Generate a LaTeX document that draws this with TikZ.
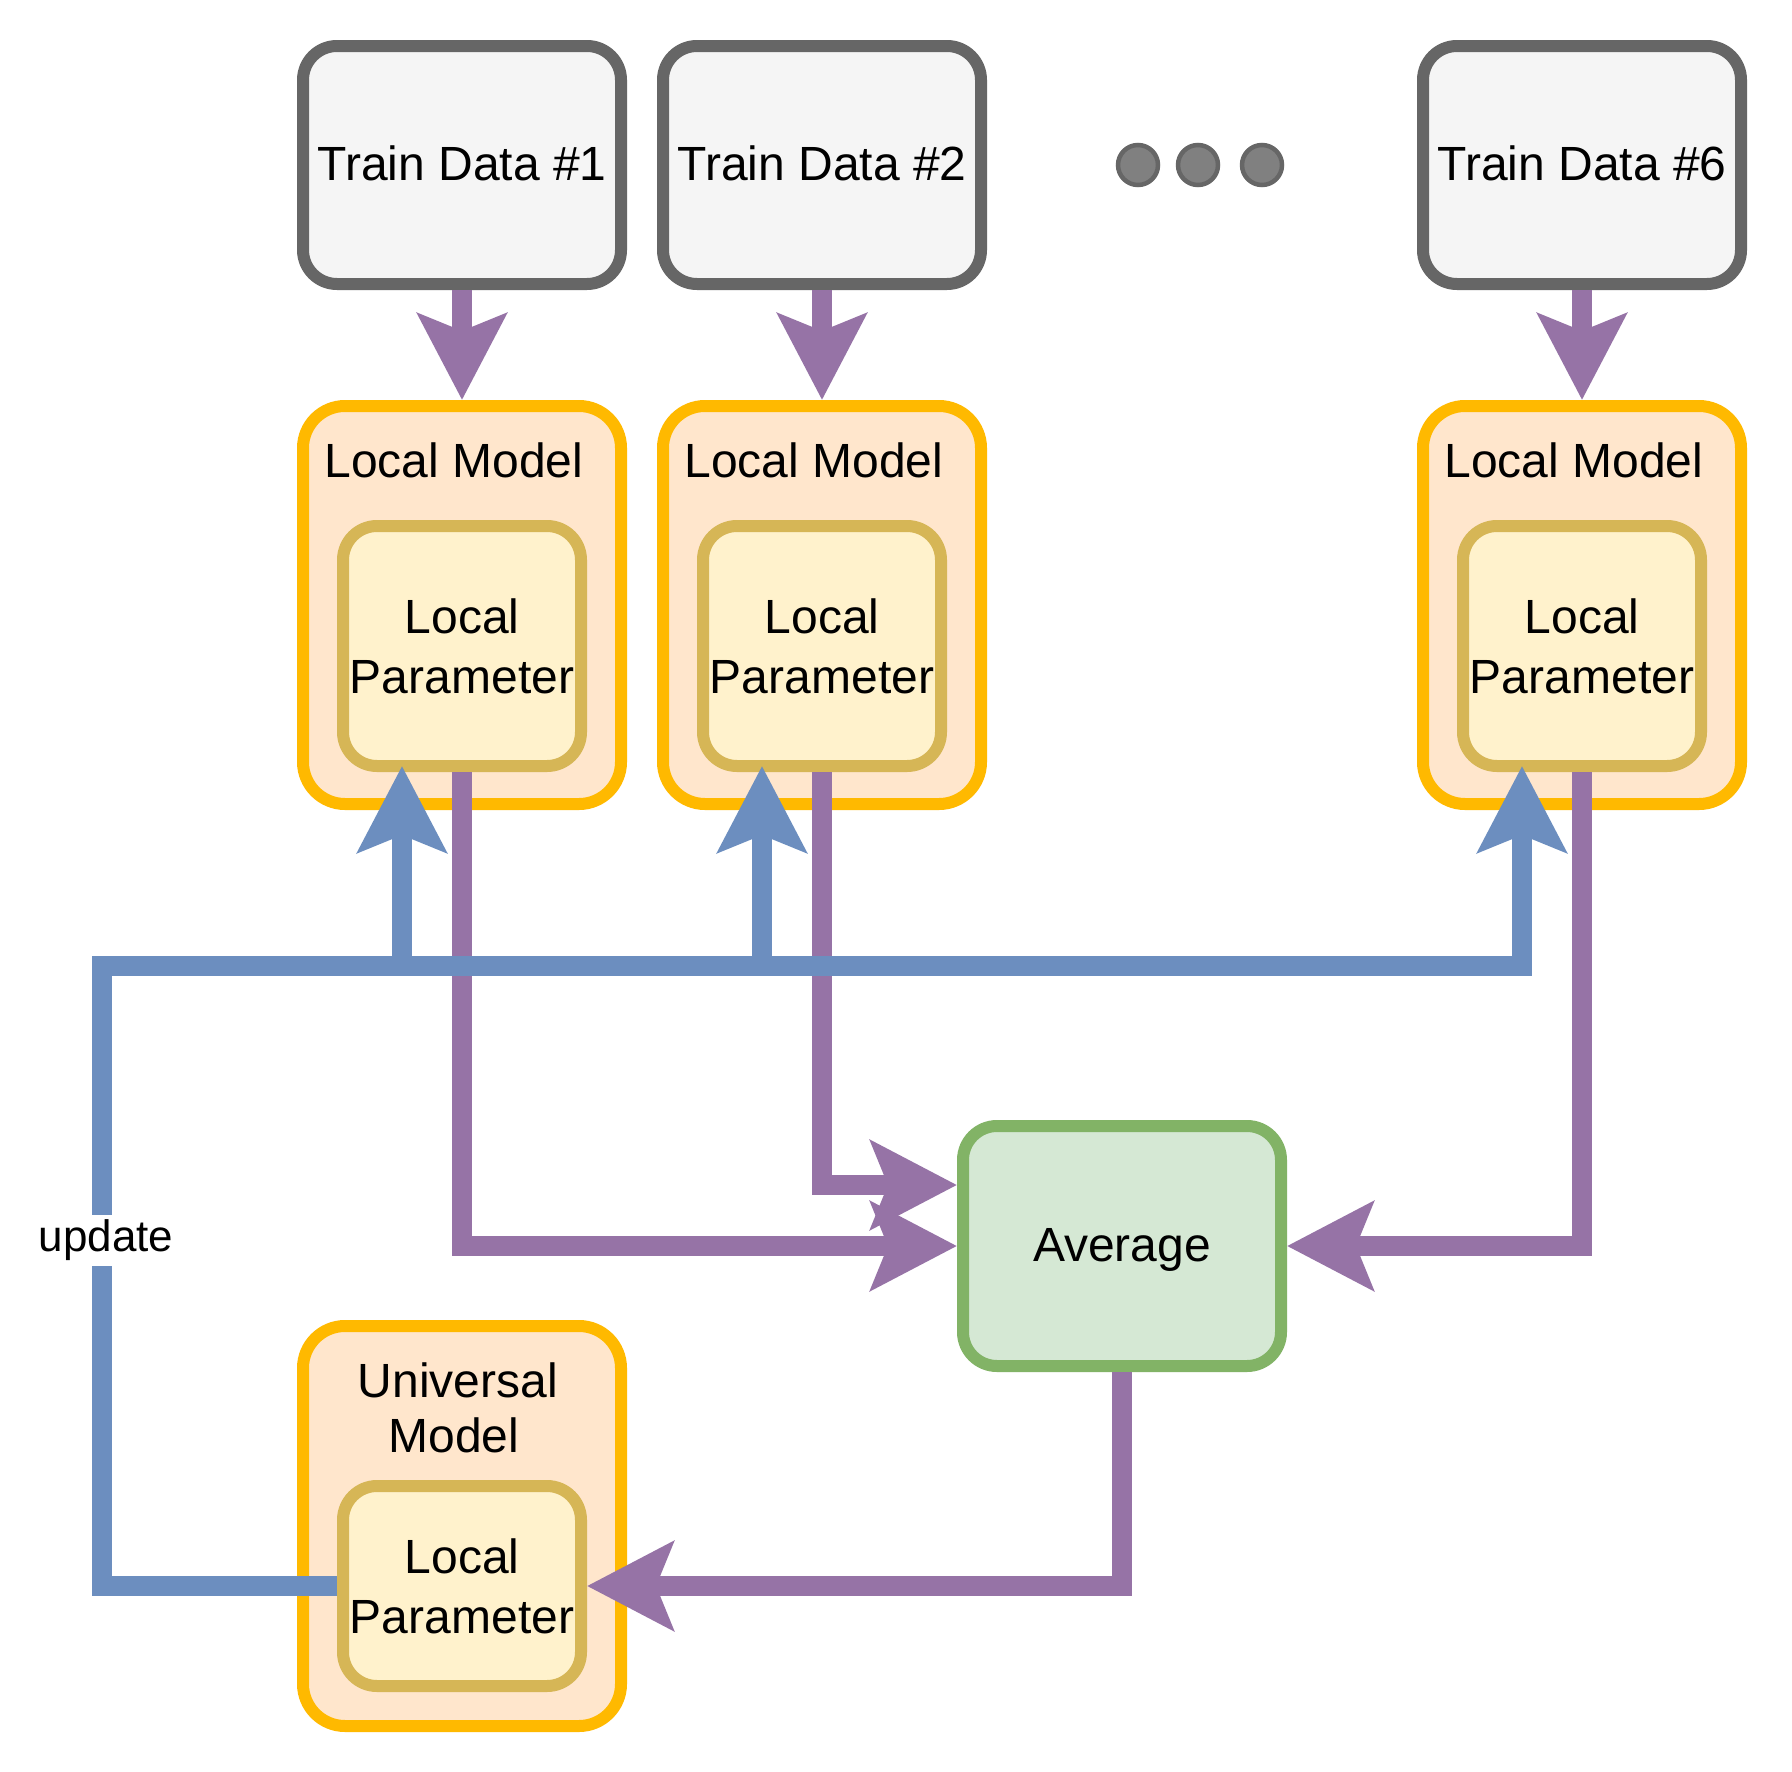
\documentclass[tikz,border=0pt]{standalone}
\usepackage{fontspec}
\setmainfont{Liberation Sans}
\usetikzlibrary{arrows.meta}
\definecolor{grayfill}{HTML}{F5F5F5}
\definecolor{graydraw}{HTML}{666666}
\definecolor{orangefill}{HTML}{FFE6CC}
\definecolor{orangedraw}{HTML}{FFB900}
\definecolor{yelfill}{HTML}{FFF2CC}
\definecolor{yeldraw}{HTML}{D6B656}
\definecolor{grnfill}{HTML}{D5E8D4}
\definecolor{grndraw}{HTML}{82B366}
\definecolor{purp}{HTML}{9673A6}
\definecolor{blu}{HTML}{6C8EBF}
\definecolor{dotfill}{HTML}{808080}
\newcommand\bigfnt{\fontsize{48}{60}\selectfont}
\newcommand\smallfnt{\fontsize{44}{52}\selectfont}
\begin{document}
\begin{tikzpicture}[x=1pt,y=-1pt,
  databox/.style={draw=graydraw,fill=grayfill,line width=12pt,rounded corners=34pt,
    minimum width=318pt,minimum height=238pt,inner sep=0pt,text height=30pt,text depth=0pt,font=\bigfnt},
  modelbox/.style={draw=orangedraw,fill=orangefill,line width=12pt,rounded corners=42pt,
    minimum width=318pt,minimum height=398pt,inner sep=0pt},
  parbox/.style={draw=yeldraw,fill=yelfill,line width=12pt,rounded corners=34pt,
    minimum width=238pt,minimum height=240pt,inner sep=0pt,align=center,font=\bigfnt},
  avgbox/.style={draw=grndraw,fill=grnfill,line width=12pt,rounded corners=34pt,
    minimum width=318pt,minimum height=240pt,inner sep=0pt,text height=30pt,text depth=0pt,font=\bigfnt},
  lbl/.style={inner sep=0pt,font=\bigfnt,anchor=base},
  dotnode/.style={circle,draw=graydraw,fill=dotfill,line width=4.5pt,minimum size=40pt,inner sep=0pt},
  bigarrow/.style={-{Stealth[length=86pt,width=88pt,inset=17pt]}},
  purpline/.style={draw=purp,line width=20pt,line join=miter,bigarrow},
  blueline/.style={draw=blu,line width=20pt,line join=miter,bigarrow},
  updlbl/.style={fill=white,font=\smallfnt,inner xsep=2pt,inner ysep=5pt}]
\useasboundingbox (0,0) rectangle (1792,1772);
\fill[white] (0,0) rectangle (1792,1772);

% train data
\node[databox] (d1) at (462,165) {Train Data \#1};
\node[databox] (d2) at (822,165) {Train Data \#2};
\node[databox] (d6) at (1582,165) {Train Data \#6};
\node[dotnode] (c1) at (1138,165) {};
\node[dotnode] (c2) at (1198,165) {};
\node[dotnode] (c3) at (1262,165) {};

% local models
\node[modelbox] (m1) at (462,605) {};
\node[modelbox] (m2) at (822,605) {};
\node[modelbox] (m6) at (1582,605) {};
\node[lbl] (m1t) at (454,477) {Local Model};
\node[lbl] (m2t) at (814,477) {Local Model};
\node[lbl] (m6t) at (1574,477) {Local Model};
\node[parbox] (p1) at (462,646) {Local\\Parameter};
\node[parbox] (p2) at (822,646) {Local\\Parameter};
\node[parbox] (p6) at (1582,646) {Local\\Parameter};

% average
\node[avgbox] (avg) at (1122,1246) {Average};

% universal model
\node[modelbox,minimum height=400pt] (um) at (462,1526) {};
\node[lbl] (umt1) at (458,1397) {Universal};
\node[lbl] (umt2) at (454,1452) {Model};
\node[parbox,minimum height=200pt] (up) at (462,1586) {Local\\Parameter};

% purple connectors
\draw[purpline] (d1.south) -- (m1.north);
\draw[purpline] (d2.south) -- (m2.north);
\draw[purpline] (d6.south) -- (m6.north);
\coordinate (avgw2) at ([yshift=61pt]avg.west);
\draw[purpline] (p1.south) |- (avg.west);
\draw[purpline] (p2.south) |- (avgw2);
\draw[purpline] (p6.south) |- (avg.east);
\draw[purpline] (avg.south) |- (up.east);

% blue update connectors
\coordinate (ul) at (102,1586);
\coordinate (tl) at (102,966);
\coordinate (b1) at ([xshift=-60pt,yshift=6pt]p1.south);
\coordinate (b2) at ([xshift=-60pt,yshift=6pt]p2.south);
\coordinate (b6) at ([xshift=-60pt,yshift=6pt]p6.south);
\draw[blueline] (up.west) -- (ul) -- (tl) -| (b1);
\draw[blueline] (up.west) -- (ul) -- (tl) -| (b2);
\draw[blueline] (up.west) -- (ul) -- (tl) -| (b6);
\node[updlbl] (upd) at (106,1240) {update};
\end{tikzpicture}
\end{document}
